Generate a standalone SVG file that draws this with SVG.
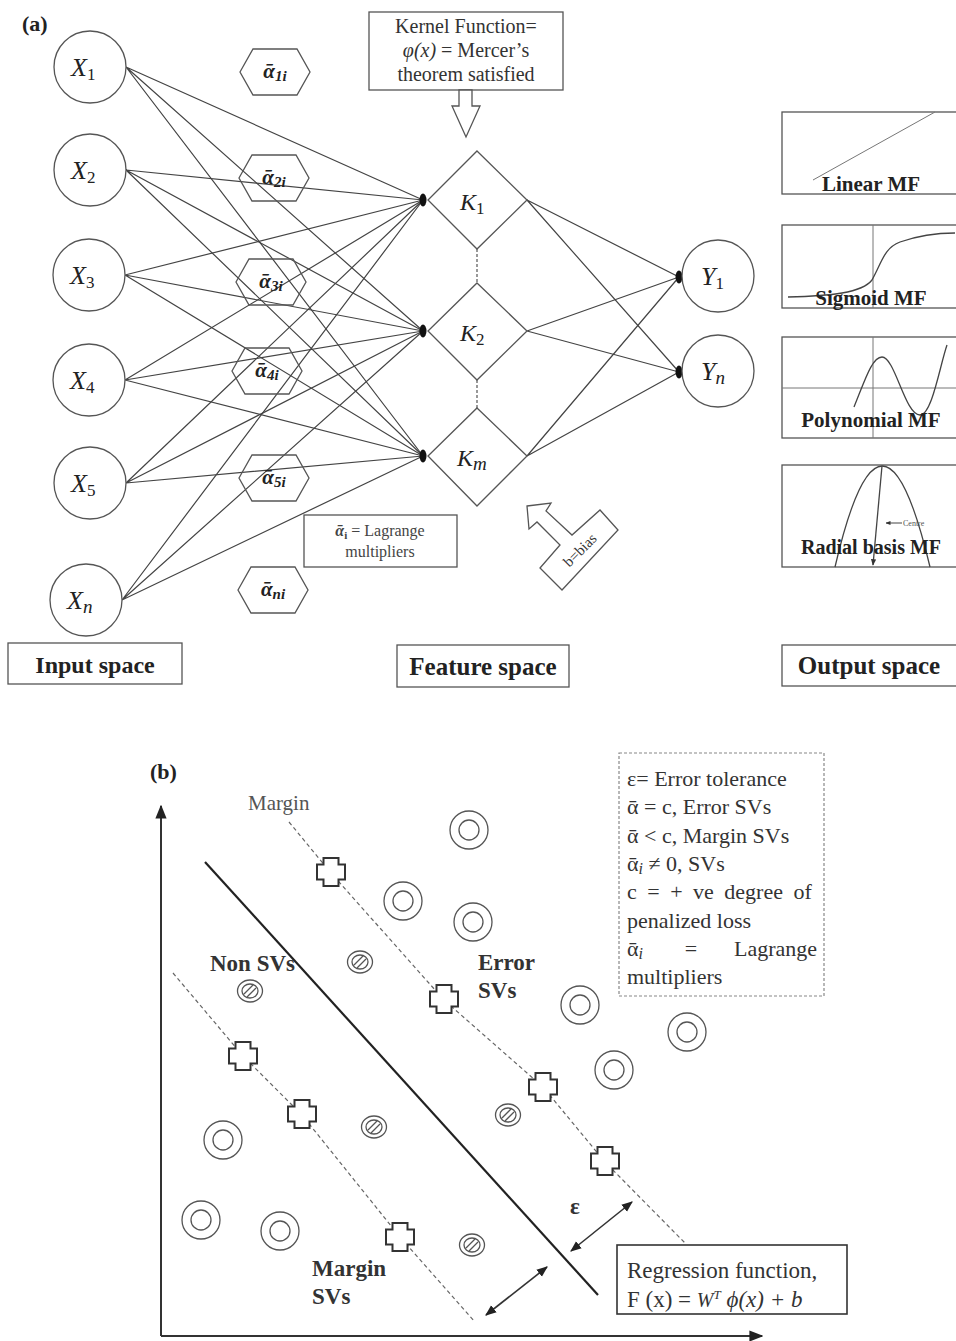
<svg xmlns="http://www.w3.org/2000/svg" xmlns:xlink="http://www.w3.org/1999/xlink" width="956" height="1341" viewBox="0 0 956 1341">
<style>
text{font-family:"Liberation Serif","Times New Roman",serif;fill:#222}
.node{fill:#fff;stroke:#555;stroke-width:1.3}
.conn{stroke:#444;stroke-width:1.2;fill:none}
.box{fill:#fff;stroke:#555;stroke-width:1.3}
.xl{font-size:26px;font-style:italic}
.sub{font-size:17px;font-style:normal}
.al{font-size:21px;font-style:italic;font-weight:bold;text-anchor:middle}
.als{font-size:15px;font-weight:bold}
.mf{font-size:21px;font-weight:bold;text-anchor:middle}
.sp{font-size:25px;font-weight:bold;text-anchor:middle}
.curve{fill:none;stroke:#444;stroke-width:1.3}
.thin{fill:none;stroke:#777;stroke-width:1}
.lg{font-size:22px;fill:#333}
.bl{font-size:23px;font-weight:bold;fill:#333}
.cross{fill:#fff;stroke:#333;stroke-width:2}
.ring{fill:#fff;stroke:#555;stroke-width:1.3}
.dash{fill:none;stroke:#666;stroke-width:1.2;stroke-dasharray:4 3}
.kt{font-size:20px;text-anchor:middle;fill:#333}
</style>
<defs>
<polygon id="hex" points="-35,0 -22,-23 22,-23 35,0 22,23 -22,23" class="node"/>
<polygon id="hexo" points="-35,0 -22,-23 22,-23 35,0 22,23 -22,23" fill="none" stroke="#555" stroke-width="1.3"/>
<path id="crs" d="M-7.5,-14H7.5V-7.5H14V7.5H7.5V14H-7.5V7.5H-14V-7.5H-7.5Z" class="cross"/>
<g id="ring"><circle r="19" class="ring"/><circle r="10" class="ring"/></g>
<g id="hatch"><ellipse rx="12.5" ry="11" class="ring"/><ellipse rx="8" ry="7" class="ring"/><path d="M3,-6 L-6,3 M6,-3 L-3,6" stroke="#555" stroke-width="1.3"/></g>
<ellipse id="dot" rx="3.5" ry="6.5" fill="#111"/>
<marker id="ah" viewBox="0 0 10 10" refX="9" refY="5" markerWidth="7" markerHeight="7" orient="auto-start-reverse"><path d="M0,1 L10,5 L0,9 Z" fill="#222"/></marker>
<marker id="ahs" viewBox="0 0 10 10" refX="9" refY="5" markerWidth="5" markerHeight="5" orient="auto"><path d="M0,1 L10,5 L0,9 Z" fill="#333"/></marker>
</defs>

<text x="22" y="31" style="font-size:22px;font-weight:bold">(a)</text>

<!-- connectors part a -->
<g id="connectors">
<g class="conn">
<path d="M126,67L423,200M126,67L423,331M126,67L423,456"/>
<path d="M126,170L423,200M126,170L423,331M126,170L423,456"/>
<path d="M125,275L423,200M125,275L423,331M125,275L423,456"/>
<path d="M125,380L423,200M125,380L423,331M125,380L423,456"/>
<path d="M126,483L423,200M126,483L423,331M126,483L423,456"/>
<path d="M122,600L423,200M122,600L423,331M122,600L423,456"/>
<path d="M527,200L679,277M527,200L679,372"/>
<path d="M527,331L679,277M527,331L679,372"/>
<path d="M527,456L679,277M527,456L679,372"/>
</g>
<g stroke="#555" stroke-width="1.2" stroke-dasharray="3 2">
<line x1="477" y1="249" x2="477" y2="283"/>
<line x1="477" y1="380" x2="477" y2="408"/>
</g>
<use href="#dot" x="423" y="200"/>
<use href="#dot" x="423" y="331"/>
<use href="#dot" x="423" y="456"/>
<use href="#dot" x="679" y="277"/>
<use href="#dot" x="679" y="372"/>
</g>

<!-- alpha hexagons -->
<g id="alpha1"><use href="#hex" x="275" y="72"/><text x="275" y="78" class="al">ᾱ<tspan class="als" dy="3">1i</tspan></text></g>
<g id="alpha2"><use href="#hexo" x="274" y="178"/><text x="274" y="184" class="al">ᾱ<tspan class="als" dy="3">2i</tspan></text></g>
<g id="alpha3"><use href="#hexo" x="271" y="282"/><text x="271" y="288" class="al">ᾱ<tspan class="als" dy="3">3i</tspan></text></g>
<g id="alpha4"><use href="#hexo" x="267" y="371"/><text x="267" y="377" class="al">ᾱ<tspan class="als" dy="3">4i</tspan></text></g>
<g id="alpha5"><use href="#hexo" x="274" y="478"/><text x="274" y="484" class="al">ᾱ<tspan class="als" dy="3">5i</tspan></text></g>
<g id="alphan"><use href="#hex" x="273" y="590"/><text x="273" y="596" class="al">ᾱ<tspan class="als" dy="3">ni</tspan></text></g>

<!-- input nodes -->
<g id="X1"><circle cx="90" cy="67" r="36" class="node"/><text x="71" y="76" class="xl">X<tspan class="sub" dy="4">1</tspan></text></g>
<g id="X2"><circle cx="90" cy="170" r="36" class="node"/><text x="71" y="179" class="xl">X<tspan class="sub" dy="4">2</tspan></text></g>
<g id="X3"><circle cx="89" cy="275" r="36" class="node"/><text x="70" y="284" class="xl">X<tspan class="sub" dy="4">3</tspan></text></g>
<g id="X4"><circle cx="89" cy="380" r="36" class="node"/><text x="70" y="389" class="xl">X<tspan class="sub" dy="4">4</tspan></text></g>
<g id="X5"><circle cx="90" cy="483" r="36" class="node"/><text x="71" y="492" class="xl">X<tspan class="sub" dy="4">5</tspan></text></g>
<g id="Xn"><circle cx="86" cy="600" r="36" class="node"/><text x="67" y="609" class="xl">X<tspan class="sub" dy="4" style="font-style:italic;font-size:19px">n</tspan></text></g>

<!-- kernel nodes -->
<g id="K1"><polygon points="477,151 527,200 477,249 428,200" class="node"/><text x="460" y="210" class="xl" style="font-size:24px">K<tspan class="sub" dy="4">1</tspan></text></g>
<g id="K2"><polygon points="477,283 527,331 477,380 428,331" class="node"/><text x="460" y="341" class="xl" style="font-size:24px">K<tspan class="sub" dy="4">2</tspan></text></g>
<g id="Km"><polygon points="477,408 527,456 477,506 428,456" class="node"/><text x="457" y="466" class="xl" style="font-size:24px">K<tspan class="sub" dy="4" style="font-style:italic;font-size:19px">m</tspan></text></g>

<!-- output nodes -->
<g id="Y1"><circle cx="718" cy="276" r="36" class="node"/><text x="701" y="285" class="xl">Y<tspan class="sub" dy="4">1</tspan></text></g>
<g id="Yn"><circle cx="718" cy="371" r="36" class="node"/><text x="701" y="380" class="xl">Y<tspan class="sub" dy="4" style="font-style:italic;font-size:19px">n</tspan></text></g>

<!-- kernel function callout -->
<g id="kernel">
<rect x="369" y="12" width="194" height="78" class="box"/>
<text x="466" y="33" class="kt">Kernel Function=</text>
<text x="466" y="57" class="kt"><tspan font-style="italic">φ(x)</tspan> =  Mercer’s</text>
<text x="466" y="81" class="kt">theorem satisfied</text>
<polygon points="459,90 459,106 452,106 466,137 480,106 472,106 472,90" fill="#fff" stroke="#555" stroke-width="1.3"/>
</g>

<!-- lagrange note -->
<g id="lagrange">
<rect x="304" y="515" width="153" height="52" class="box"/>
<text x="380" y="536" style="font-size:16px;text-anchor:middle;fill:#444"><tspan font-weight="bold" font-style="italic">ᾱ</tspan><tspan font-size="11" font-weight="bold" dy="3">i</tspan><tspan dy="-3"> = Lagrange</tspan></text>
<text x="380" y="557" style="font-size:16px;text-anchor:middle;fill:#444">multipliers</text>
</g>

<!-- bias arrow -->
<g id="bias">
<polygon points="527,506 551,503 546,511 572,535 600,510 618,530 562,590 540,568 560,545 537,522 529,529" fill="#fff" stroke="#555" stroke-width="1.3" stroke-linejoin="miter"/>
<text x="580" y="555" transform="rotate(-45 580 550)" style="font-size:15px;text-anchor:middle;fill:#333">b=bias</text>
</g>

<!-- MF panels -->
<g id="linearMF">
<rect x="782" y="112" width="176" height="82" class="box"/>
<line x1="813" y1="180" x2="935" y2="112" class="thin"/>
<text x="871" y="191" class="mf">Linear MF</text>
</g>
<g id="sigmoidMF">
<rect x="782" y="225" width="176" height="83" class="box"/>
<line x1="873" y1="225" x2="873" y2="308" class="thin"/>
<path d="M788,297 C830,296 862,293 872,280 C882,262 884,248 900,242 C920,235 940,233 955,233" class="curve"/>
<text x="871" y="305" class="mf">Sigmoid MF</text>
</g>
<g id="polyMF">
<rect x="782" y="337" width="176" height="101" class="box"/>
<line x1="873" y1="337" x2="873" y2="438" class="thin"/>
<line x1="782" y1="388" x2="956" y2="388" class="thin"/>
<path d="M854,407 C865,380 872,357 882,357 C895,357 905,415 920,415 C932,415 940,365 947,345" class="curve"/>
<text x="871" y="427" class="mf">Polynomial MF</text>
</g>
<g id="rbfMF">
<rect x="782" y="465" width="176" height="102" class="box"/>
<path d="M835,567 Q882,365 930,567" class="curve"/>
<line x1="882" y1="466" x2="873" y2="565" stroke="#444" stroke-width="1.3" marker-end="url(#ahs)"/>
<line x1="902" y1="523" x2="886" y2="523" stroke="#444" stroke-width="1" marker-end="url(#ahs)"/>
<text x="903" y="526" style="font-size:8px;fill:#555">Centre</text>
<text x="871" y="554" class="mf" style="font-size:20px">Radial basis MF</text>
</g>

<!-- space labels -->
<g id="inputSpace"><rect x="8" y="643" width="174" height="41" class="box"/><text x="95" y="673" class="sp" style="font-size:24px">Input space</text></g>
<g id="featureSpace"><rect x="397" y="645" width="172" height="42" class="box"/><text x="483" y="675" class="sp">Feature space</text></g>
<g id="outputSpace"><rect x="782" y="645" width="176" height="41" class="box"/><text x="869" y="674" class="sp">Output space</text></g>

<!-- ============ Part (b) ============ -->
<text x="150" y="779" style="font-size:22px;font-weight:bold">(b)</text>

<g id="axes">
<line x1="161" y1="1336" x2="161" y2="806" stroke="#333" stroke-width="2" marker-end="url(#ah)"/>
<line x1="161" y1="1336" x2="762" y2="1336" stroke="#333" stroke-width="2" marker-end="url(#ah)"/>
</g>

<g id="margins">
<polyline points="289,822 331,873 444,1000 543,1087 605,1162 685,1243" class="dash"/>
<polyline points="173,973 243,1056 302,1115 400,1237 475,1322" class="dash"/>
<line x1="205" y1="862" x2="598" y2="1295" stroke="#222" stroke-width="2.2"/>
</g>

<g id="arrows">
<line x1="571" y1="1251" x2="632" y2="1202" stroke="#333" stroke-width="1.6" marker-start="url(#ah)" marker-end="url(#ah)"/>
<line x1="486" y1="1315" x2="547" y2="1267" stroke="#333" stroke-width="1.6" marker-start="url(#ah)" marker-end="url(#ah)"/>
</g>

<g id="errorPoints">
<use href="#ring" x="469" y="830"/>
<use href="#ring" x="403" y="901"/>
<use href="#ring" x="473" y="922"/>
<use href="#ring" x="580" y="1005"/>
<use href="#ring" x="687" y="1032"/>
<use href="#ring" x="614" y="1070"/>
<use href="#ring" x="223" y="1140"/>
<use href="#ring" x="201" y="1220"/>
<use href="#ring" x="280" y="1231"/>
</g>

<g id="nonSVPoints">
<use href="#hatch" x="360" y="962"/>
<use href="#hatch" x="250" y="991"/>
<use href="#hatch" x="374" y="1127"/>
<use href="#hatch" x="508" y="1115"/>
<use href="#hatch" x="472" y="1245"/>
</g>

<g id="marginPoints">
<use href="#crs" x="331" y="872"/>
<use href="#crs" x="444" y="999"/>
<use href="#crs" x="543" y="1087"/>
<use href="#crs" x="605" y="1161"/>
<use href="#crs" x="243" y="1056"/>
<use href="#crs" x="302" y="1114"/>
<use href="#crs" x="400" y="1237"/>
</g>

<g id="labelsB">
<text x="248" y="810" class="lg" style="fill:#555;font-size:21px">Margin</text>
<text x="210" y="971" class="bl">Non SVs</text>
<text x="478" y="970" class="bl">Error</text>
<text x="478" y="998" class="bl">SVs</text>
<text x="312" y="1276" class="bl">Margin</text>
<text x="312" y="1304" class="bl">SVs</text>
<text x="570" y="1214" class="bl">ε</text>
</g>

<g id="legend">
<rect x="619" y="753" width="205" height="243" fill="#fff" stroke="#888" stroke-width="1.2" stroke-dasharray="3 2"/>
<text x="627" y="786" class="lg">ε= Error tolerance</text>
<text x="627" y="814" class="lg">ᾱ = c, Error SVs</text>
<text x="627" y="843" class="lg">ᾱ &lt; c, Margin SVs</text>
<text x="627" y="871" class="lg">ᾱ<tspan font-style="italic" font-size="16" dy="3">i</tspan><tspan dy="-3"> ≠ 0, SVs</tspan></text>
<text x="627" y="899" class="lg" word-spacing="5">c = + ve degree of</text>
<text x="627" y="928" class="lg">penalized loss</text>
<text x="627" y="956" class="lg">ᾱ<tspan font-style="italic" font-size="16" dy="3">i</tspan></text>
<text x="691" y="956" class="lg" text-anchor="middle">=</text>
<text x="817" y="956" class="lg" text-anchor="end">Lagrange</text>
<text x="627" y="984" class="lg">multipliers</text>
</g>

<g id="regression">
<rect x="617" y="1245" width="230" height="69" fill="#fff" stroke="#333" stroke-width="1.6"/>
<text x="627" y="1278" class="lg" style="font-size:23px">Regression function,</text>
<text x="627" y="1307" class="lg" style="font-size:23px">F (x) =  <tspan font-style="italic" font-size="20">W<tspan font-size="13" dy="-8">T</tspan></tspan><tspan dy="8" font-style="italic">  ϕ(x) + b</tspan></text>
</g>
</svg>
